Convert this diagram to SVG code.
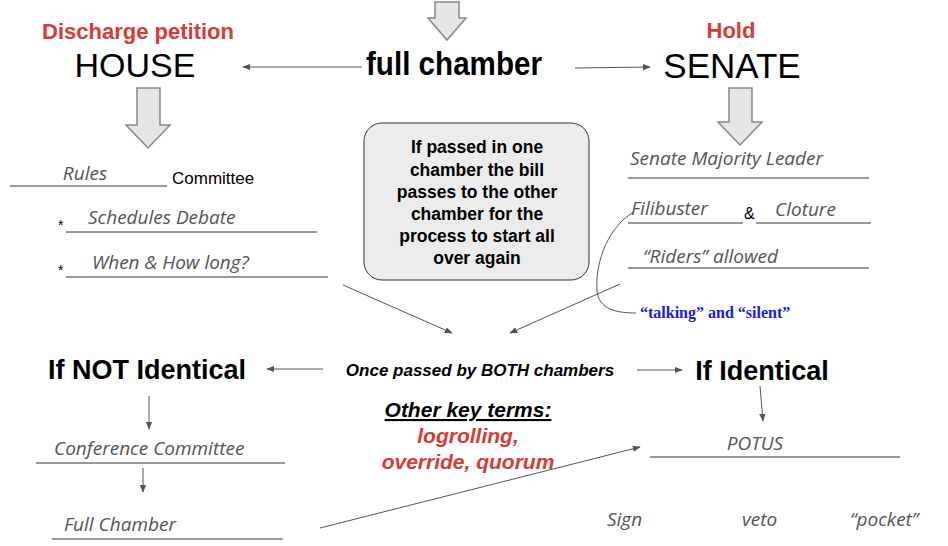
<svg xmlns="http://www.w3.org/2000/svg" width="948" height="546" viewBox="0 0 948 546">
<style>
.h{font-family:"Open Sans","Liberation Sans",sans-serif;font-style:italic;fill:#555;font-size:19px}
.s{font-family:"Liberation Sans",Arial,sans-serif}
.ul{stroke:#333;stroke-width:1}
.c{stroke:#555;stroke-width:1;fill:none}
.blk{fill:#e6e6e6;stroke:#888;stroke-width:1.5}
</style>
<defs><marker id="a" viewBox="0 0 10 10" refX="9" refY="5" markerWidth="8" markerHeight="8" orient="auto"><path d="M0,1 L10,5 L0,9 z" fill="#555"/></marker></defs>
<rect width="948" height="546" fill="#fff"/>
<g id="topArrow"><path class="blk" d="M435,2 H459 V18 H466 L447,40 L428,18 H435 Z"/></g>
<g id="houseArrow"><path class="blk" d="M137,88 H160 V125 H170 L148,148 L126,125 H137 Z"/></g>
<g id="senateArrow"><path class="blk" d="M729,88 H752 V122 H762 L740,145 L718,122 H729 Z"/></g>
<g id="fullChamber"><text x="454" y="75" class="s" font-size="33" font-weight="bold" text-anchor="middle" textLength="176" lengthAdjust="spacingAndGlyphs">full chamber</text></g>
<g id="house"><text x="138" y="39" class="s" font-size="22" font-weight="bold" fill="#d93a33" text-anchor="middle">Discharge petition</text><text x="135" y="77" class="s" font-size="34" text-anchor="middle">HOUSE</text></g>
<g id="senate"><text x="731" y="38" class="s" font-size="22" font-weight="bold" fill="#d93a33" text-anchor="middle">Hold</text><text x="732" y="78" class="s" font-size="35" text-anchor="middle">SENATE</text></g>
<g id="houseSteps">
<line class="ul" x1="10" y1="186" x2="167" y2="186"/><text x="85" y="180" class="h" text-anchor="middle">Rules</text><text x="172" y="184" class="s" font-size="17">Committee</text>
<text x="58" y="230" class="s" font-size="14">*</text><line class="ul" x1="66" y1="232" x2="317" y2="232"/><text x="88" y="224" class="h">Schedules Debate</text>
<text x="58" y="275" class="s" font-size="14">*</text><line class="ul" x1="66" y1="277" x2="328" y2="277"/><text x="92" y="269" class="h">When &amp; How long?</text>
</g>
<g id="infoBox"><rect x="364" y="123" width="225" height="157" rx="18" fill="#ececec" stroke="#333"/>
<text class="s" font-size="17.5" font-weight="bold" text-anchor="middle"><tspan x="477" y="153">If passed in one</tspan><tspan x="477" y="176">chamber the bill</tspan><tspan x="477" y="198">passes to the other</tspan><tspan x="477" y="220">chamber for the</tspan><tspan x="477" y="242">process to start all</tspan><tspan x="477" y="264">over again</tspan></text></g>
<g id="senateSteps">
<line class="ul" x1="628" y1="178" x2="869" y2="178"/><text x="630" y="165" class="h">Senate Majority Leader</text>
<line class="ul" x1="628" y1="223" x2="743" y2="223"/><text x="631" y="215" class="h">Filibuster</text><text x="744" y="219" class="s" font-size="16">&amp;</text><line class="ul" x1="756" y1="223" x2="871" y2="223"/><text x="775" y="216" class="h">Cloture</text>
<line class="ul" x1="628" y1="268" x2="869" y2="268"/><text x="643" y="263" class="h">“Riders” allowed</text>
<text x="640" y="318" font-family="Liberation Serif,serif" font-size="16" font-weight="bold" fill="#1a1aee">“talking” and “silent”</text>
</g>
<g id="middle">
<text x="480" y="376" class="s" font-size="17" font-weight="bold" font-style="italic" text-anchor="middle">Once passed by BOTH chambers</text>
<text x="147" y="379" class="s" font-size="27" font-weight="bold" text-anchor="middle">If NOT Identical</text>
<text x="762" y="380" class="s" font-size="27" font-weight="bold" text-anchor="middle">If Identical</text>
<text x="468" y="417" class="s" font-size="21" font-weight="bold" font-style="italic" text-anchor="middle" text-decoration="underline">Other key terms:</text>
<text x="468" y="443" class="s" font-size="21" font-weight="bold" font-style="italic" fill="#d93a33" text-anchor="middle">logrolling,</text>
<text x="468" y="469" class="s" font-size="21" font-weight="bold" font-style="italic" fill="#d93a33" text-anchor="middle">override, quorum</text>
</g>
<g id="conference"><line class="ul" x1="36" y1="463" x2="285" y2="463"/><text x="54" y="455" class="h">Conference Committee</text></g>
<g id="fullChamber2"><line class="ul" x1="52" y1="539" x2="283" y2="539"/><text x="64" y="531" class="h">Full Chamber</text></g>
<g id="potus"><line class="ul" x1="650" y1="457" x2="900" y2="457"/><text x="755" y="450" class="h" text-anchor="middle">POTUS</text></g>
<g id="options"><text x="607" y="526" class="h" font-size="18">Sign</text><text x="742" y="526" class="h" font-size="17">veto</text><text x="850" y="526" class="h" font-size="18">“pocket”</text></g>
<g id="connectors">
<line class="c" x1="362" y1="67" x2="243" y2="67" marker-end="url(#a)"/>
<line class="c" x1="575" y1="68" x2="650" y2="67" marker-end="url(#a)"/>
<line class="c" x1="343" y1="285" x2="452" y2="333" marker-end="url(#a)"/>
<line class="c" x1="620" y1="284" x2="510" y2="333" marker-end="url(#a)"/>
<path class="c" d="M634,212 C610,225 595,260 597,290 C598,310 618,313 636,313"/>
<line class="c" x1="323" y1="369" x2="267" y2="369" marker-end="url(#a)"/>
<line class="c" x1="637" y1="370" x2="682" y2="370" marker-end="url(#a)"/>
<line class="c" x1="149" y1="396" x2="149" y2="429" marker-end="url(#a)"/>
<line class="c" x1="143" y1="468" x2="143" y2="492" marker-end="url(#a)"/>
<line class="c" x1="760" y1="386" x2="763" y2="421" marker-end="url(#a)"/>
<line class="c" x1="320" y1="528" x2="640" y2="447" marker-end="url(#a)"/>
</g>
</svg>
